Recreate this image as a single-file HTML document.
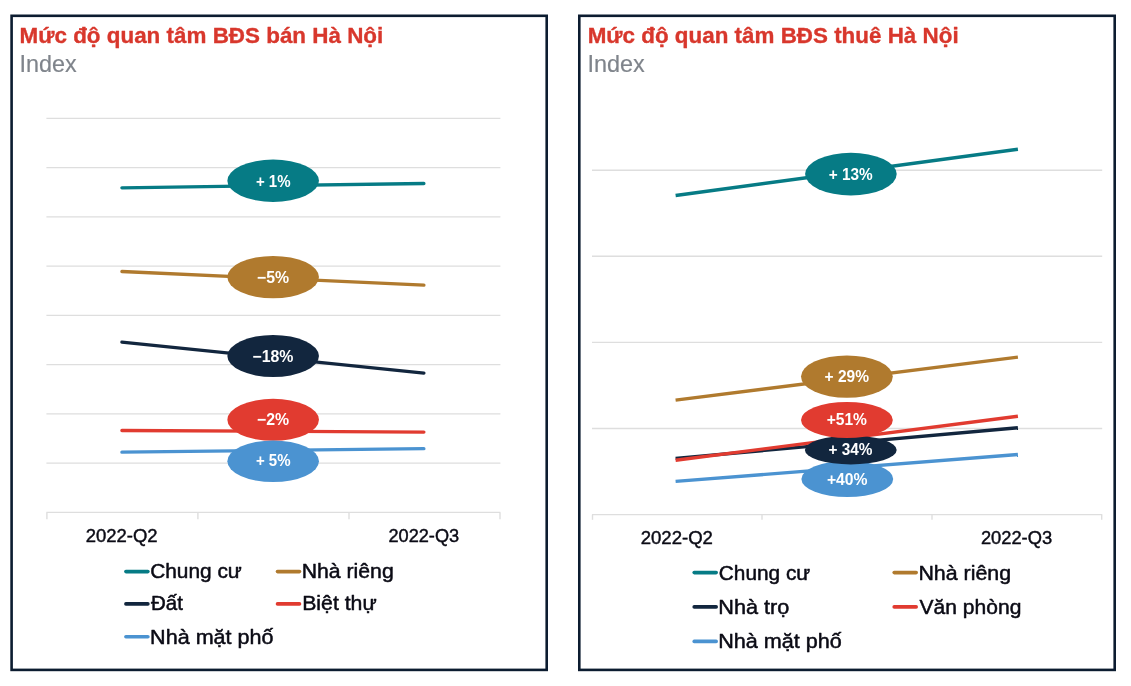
<!DOCTYPE html>
<html lang="vi">
<head>
<meta charset="utf-8">
<title>Mức độ quan tâm BĐS Hà Nội</title>
<style>
html,body{margin:0;padding:0;background:#fff;}
body{width:1131px;height:686px;overflow:hidden;}
svg{display:block;font-family:"Liberation Sans",sans-serif;}
text{paint-order:stroke;stroke-linejoin:round;}
.t{font-weight:bold;fill:#d8372c;stroke:#d8372c;stroke-width:.35;font-size:22.8px;}
.s{fill:#7f848b;stroke:#7f848b;stroke-width:.2;font-size:23.8px;}
.ax{fill:#0a0a14;stroke:#0a0a14;stroke-width:.45;font-size:19.1px;}
.lg{fill:#0a0a14;stroke:#0a0a14;stroke-width:.5;font-size:20.9px;}
.b{fill:#fff;stroke:none;font-weight:bold;font-size:16.3px;}
.g{stroke:#dedede;stroke-width:1.4;fill:none;}
.l{stroke-width:3.3;stroke-linecap:round;fill:none;}
.k{stroke-width:3.6;stroke-linecap:round;fill:none;}
.r{stroke-width:3.4;stroke-linecap:butt;fill:none;}
</style>
</head>
<body>
<svg width="1131" height="686" viewBox="0 0 1131 686">
<rect x="0" y="0" width="1131" height="686" fill="#fff"/>
<rect x="11.60" y="15.80" width="535.10" height="654.10" fill="#fff" stroke="#0c1c30" stroke-width="2.60"/>
<text class="t" x="19.54" y="42.65" textLength="363.76" lengthAdjust="spacingAndGlyphs">Mức độ quan tâm BĐS bán Hà Nội</text>
<text class="s" x="19.50" y="71.80" textLength="57.18" lengthAdjust="spacingAndGlyphs">Index</text>
<line class="g" x1="46.4" x2="500.4" y1="118.40" y2="118.40"/>
<line class="g" x1="46.4" x2="500.4" y1="167.65" y2="167.65"/>
<line class="g" x1="46.4" x2="500.4" y1="216.90" y2="216.90"/>
<line class="g" x1="46.4" x2="500.4" y1="266.15" y2="266.15"/>
<line class="g" x1="46.4" x2="500.4" y1="315.40" y2="315.40"/>
<line class="g" x1="46.4" x2="500.4" y1="364.65" y2="364.65"/>
<line class="g" x1="46.4" x2="500.4" y1="413.90" y2="413.90"/>
<line class="g" x1="46.4" x2="500.4" y1="463.15" y2="463.15"/>
<line class="g" x1="46.4" x2="500.4" y1="512.40" y2="512.40"/>
<line class="g" x1="46.9" x2="46.9" y1="512.4" y2="519.3"/>
<line class="g" x1="197.9" x2="197.9" y1="512.4" y2="519.3"/>
<line class="g" x1="349.0" x2="349.0" y1="512.4" y2="519.3"/>
<line class="g" x1="500.0" x2="500.0" y1="512.4" y2="519.3"/>
<line class="l" stroke="#067b85" x1="121.9" y1="187.8" x2="423.9" y2="183.5"/>
<line class="l" stroke="#b07a2e" x1="121.9" y1="271.5" x2="423.9" y2="285.1"/>
<line class="l" stroke="#12263e" x1="121.9" y1="342.1" x2="423.9" y2="373.1"/>
<line class="l" stroke="#e13b30" x1="121.9" y1="430.5" x2="423.9" y2="432.1"/>
<line class="l" stroke="#4b93d1" x1="121.9" y1="452.2" x2="423.9" y2="448.7"/>
<ellipse cx="273.15" cy="180.75" rx="45.8" ry="21.2" fill="#067b85"/>
<ellipse cx="273.15" cy="277.10" rx="45.8" ry="21.2" fill="#b07a2e"/>
<ellipse cx="273.15" cy="356.00" rx="45.8" ry="21.0" fill="#12263e"/>
<ellipse cx="273.15" cy="419.80" rx="45.8" ry="21.0" fill="#e13b30"/>
<ellipse cx="273.15" cy="461.30" rx="45.8" ry="20.8" fill="#4b93d1"/>
<text class="b" x="255.89" y="186.80" textLength="34.67" lengthAdjust="spacingAndGlyphs">+ 1%</text>
<text class="b" x="257.01" y="283.00" textLength="32.14" lengthAdjust="spacingAndGlyphs">−5%</text>
<text class="b" x="252.47" y="362.10" textLength="40.98" lengthAdjust="spacingAndGlyphs">−18%</text>
<text class="b" x="257.01" y="424.60" textLength="32.14" lengthAdjust="spacingAndGlyphs">−2%</text>
<text class="b" x="255.89" y="466.10" textLength="34.69" lengthAdjust="spacingAndGlyphs">+ 5%</text>
<text class="ax" x="85.70" y="542.10" textLength="71.91" lengthAdjust="spacingAndGlyphs">2022-Q2</text>
<text class="ax" x="388.44" y="542.10" textLength="70.70" lengthAdjust="spacingAndGlyphs">2022-Q3</text>
<line class="k" stroke="#067b85" x1="125.9" y1="571.6" x2="147.9" y2="571.6"/>
<text class="lg" x="150.13" y="577.90" textLength="91.70" lengthAdjust="spacingAndGlyphs">Chung cư</text>
<line class="k" stroke="#b07a2e" x1="277.5" y1="571.6" x2="299.5" y2="571.6"/>
<text class="lg" x="301.71" y="577.90" textLength="92.00" lengthAdjust="spacingAndGlyphs">Nhà riêng</text>
<line class="k" stroke="#12263e" x1="125.9" y1="603.9" x2="147.9" y2="603.9"/>
<text class="lg" x="150.96" y="610.40" textLength="31.89" lengthAdjust="spacingAndGlyphs">Đất</text>
<line class="k" stroke="#e13b30" x1="277.5" y1="603.9" x2="299.5" y2="603.9"/>
<text class="lg" x="302.17" y="610.40" textLength="74.53" lengthAdjust="spacingAndGlyphs">Biệt thự</text>
<line class="k" stroke="#4b93d1" x1="125.9" y1="636.8" x2="147.9" y2="636.8"/>
<text class="lg" x="150.13" y="643.50" textLength="123.35" lengthAdjust="spacingAndGlyphs">Nhà mặt phố</text>
<rect x="579.30" y="15.80" width="535.40" height="654.10" fill="#fff" stroke="#0c1c30" stroke-width="2.60"/>
<text class="t" x="587.68" y="42.65" textLength="370.96" lengthAdjust="spacingAndGlyphs">Mức độ quan tâm BĐS thuê Hà Nội</text>
<text class="s" x="587.48" y="71.80" textLength="57.35" lengthAdjust="spacingAndGlyphs">Index</text>
<line class="g" x1="592.0" x2="1102.2" y1="170.20" y2="170.20"/>
<line class="g" x1="592.0" x2="1102.2" y1="256.30" y2="256.30"/>
<line class="g" x1="592.0" x2="1102.2" y1="342.40" y2="342.40"/>
<line class="g" x1="592.0" x2="1102.2" y1="428.50" y2="428.50"/>
<line class="g" x1="592.0" x2="1102.2" y1="514.60" y2="514.60"/>
<line class="g" x1="592.5" x2="592.5" y1="514.6" y2="519.8"/>
<line class="g" x1="762.0" x2="762.0" y1="514.6" y2="519.8"/>
<line class="g" x1="932.0" x2="932.0" y1="514.6" y2="519.8"/>
<line class="g" x1="1101.7" x2="1101.7" y1="514.6" y2="519.8"/>
<line class="r" stroke="#067b85" x1="675.6" y1="195.5" x2="1017.9" y2="149.2"/>
<line class="r" stroke="#b07a2e" x1="675.6" y1="400.1" x2="1017.9" y2="357.1"/>
<line class="r" stroke="#4b93d1" x1="675.6" y1="481.4" x2="1017.9" y2="454.5"/>
<line class="r" stroke="#12263e" x1="675.6" y1="458.4" x2="1017.9" y2="427.7"/>
<line class="r" stroke="#e13b30" x1="675.6" y1="460.2" x2="1017.9" y2="416.3"/>
<ellipse cx="850.90" cy="174.10" rx="45.8" ry="21.3" fill="#067b85"/>
<ellipse cx="846.90" cy="376.60" rx="45.9" ry="21.2" fill="#b07a2e"/>
<ellipse cx="847.30" cy="479.00" rx="45.9" ry="18.0" fill="#4b93d1"/>
<ellipse cx="850.80" cy="450.00" rx="45.9" ry="14.4" fill="#12263e"/>
<ellipse cx="846.90" cy="420.00" rx="45.9" ry="18.1" fill="#e13b30"/>
<text class="b" x="828.75" y="180.10" textLength="43.93" lengthAdjust="spacingAndGlyphs">+ 13%</text>
<text class="b" x="824.62" y="381.90" textLength="44.42" lengthAdjust="spacingAndGlyphs">+ 29%</text>
<text class="b" x="826.88" y="484.90" textLength="40.61" lengthAdjust="spacingAndGlyphs">+40%</text>
<text class="b" x="828.59" y="454.80" textLength="43.93" lengthAdjust="spacingAndGlyphs">+ 34%</text>
<text class="b" x="826.63" y="424.90" textLength="40.32" lengthAdjust="spacingAndGlyphs">+51%</text>
<text class="ax" x="640.65" y="543.90" textLength="72.29" lengthAdjust="spacingAndGlyphs">2022-Q2</text>
<text class="ax" x="980.90" y="543.90" textLength="71.23" lengthAdjust="spacingAndGlyphs">2022-Q3</text>
<line class="k" stroke="#067b85" x1="694.2" y1="572.6" x2="716.2" y2="572.6"/>
<text class="lg" x="718.82" y="580.10" textLength="91.48" lengthAdjust="spacingAndGlyphs">Chung cư</text>
<line class="k" stroke="#b07a2e" x1="894.2" y1="572.6" x2="916.2" y2="572.6"/>
<text class="lg" x="918.42" y="580.10" textLength="92.62" lengthAdjust="spacingAndGlyphs">Nhà riêng</text>
<line class="k" stroke="#12263e" x1="694.2" y1="606.9" x2="716.2" y2="606.9"/>
<text class="lg" x="718.28" y="614.00" textLength="71.08" lengthAdjust="spacingAndGlyphs">Nhà trọ</text>
<line class="k" stroke="#e13b30" x1="894.2" y1="606.9" x2="916.2" y2="606.9"/>
<text class="lg" x="919.56" y="614.00" textLength="101.80" lengthAdjust="spacingAndGlyphs">Văn phòng</text>
<line class="k" stroke="#4b93d1" x1="694.2" y1="641.4" x2="716.2" y2="641.4"/>
<text class="lg" x="718.25" y="647.80" textLength="123.62" lengthAdjust="spacingAndGlyphs">Nhà mặt phố</text>
</svg>
</body>
</html>
